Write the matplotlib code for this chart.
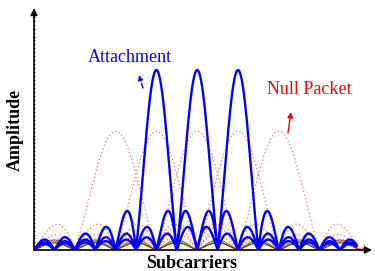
import matplotlib
matplotlib.use('Agg')
import matplotlib.pyplot as plt
import numpy as np

# subcarrier centres (in units of the sinc zero spacing) and peak amplitudes
blue_centers = [6, 8, 10]
blue_amps = [1.0, 1.0, 1.0]
red_centers = [4, 6, 8, 10, 12]
red_amps = [0.66, 0.66, 0.66, 0.66, 0.66]
low_centers = [1, 3, 5, 7, 9, 11, 13, 15]
low_amps = [0.055, 0.048, 0.040]
low_colors = ['#a0522d', '#c8b400', '#333333']

plt.rcParams['font.family'] = ['Liberation Serif', 'DejaVu Serif']

fig = plt.figure(figsize=(3.75, 2.71), dpi=100)
# axes laid out so that u=0 -> x=34px, 1 unit = 20.4px; amp 0 -> y=250px, amp 1 -> y=70px
ax = fig.add_axes([34/375, 21/271, (372-34)/375, (250-8)/271])
ax.set_xlim(0, (372-34)/20.4)
ax.set_ylim(0, (250-8)/180)

u = np.linspace(0, 15.8, 1600)
u_red = np.linspace(0, 16.2, 1600)

# low-level lobes at the bottom
for amp, col in zip(low_amps, low_colors):
    for c in low_centers:
        seg = np.linspace(c - 1, c + 1, 60)
        seg = seg[(seg >= 0) & (seg <= 15.9)]
        ax.plot(seg, amp * np.abs(np.sinc(seg - c)), color=col, lw=0.8, zorder=2)

# null packet (red dotted, wider lobes)
for c, a in zip(red_centers, red_amps):
    ax.plot(u_red, a * np.abs(np.sinc((u_red - c) / 2)), color='#ff6a6a',
            ls=(0, (1, 2.0)), lw=0.9, zorder=3)

# attachment (blue solid)
for c, a in zip(blue_centers, blue_amps):
    ax.plot(u, a * np.abs(np.sinc(u - c)), color='blue', lw=1.7, zorder=4)

for s in ax.spines.values():
    s.set_visible(False)
ax.set_xticks([])
ax.set_yticks(np.arange(0.02, 1.30, 0.022))
ax.tick_params(axis='y', length=1.5, width=0.6, direction='inout', labelleft=False)

# axis arrows
ax.annotate('', xy=(0, 1), xytext=(0, 0), xycoords='axes fraction',
            arrowprops=dict(arrowstyle='-|>', color='black', lw=1.2,
                            shrinkA=0, shrinkB=0, mutation_scale=10))
ax.annotate('', xy=(1, 0), xytext=(0, 0), xycoords='axes fraction',
            arrowprops=dict(arrowstyle='-|>', color='black', lw=1.2,
                            shrinkA=0, shrinkB=0, mutation_scale=10))

ax.text(4.7, 1.07, 'Attachment', color='blue', fontsize=13, ha='center', va='center')
ax.text(13.5, 0.89, 'Null Packet', color='red', fontsize=13, ha='center', va='center')
ax.annotate('', xy=(5.15, 0.972), xytext=(5.34, 0.9),
            arrowprops=dict(arrowstyle='-|>', color='blue', lw=1, ls='--',
                            shrinkA=0, shrinkB=0, mutation_scale=7))
ax.annotate('', xy=(12.6, 0.767), xytext=(12.45, 0.65),
            arrowprops=dict(arrowstyle='-|>', color='red', lw=1,
                            shrinkA=0, shrinkB=0, mutation_scale=8))

fig.text(15/375, (271-130)/271, 'Amplitude', fontsize=13, fontweight='bold',
         rotation=90, ha='center', va='center')
fig.text(192/375, (271-263)/271, 'Subcarriers', fontsize=13, fontweight='bold',
         ha='center', va='center')

fig.savefig('out.png', dpi=100)
